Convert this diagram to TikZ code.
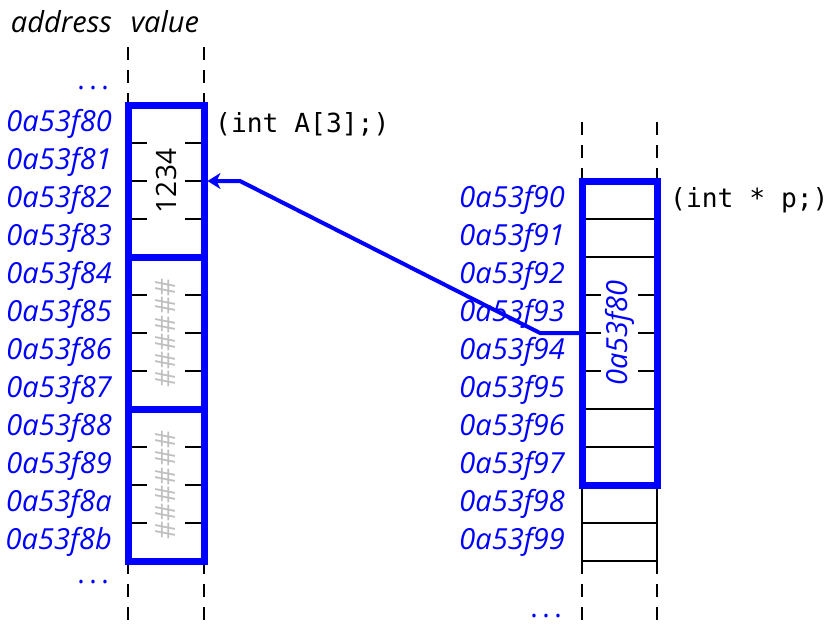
\documentclass[tikz,border=0pt]{standalone}
\usepackage{fontspec}
\setmainfont{Open Sans}
\setmonofont{DejaVu Sans Mono}
\usetikzlibrary{arrows.meta, positioning}

\newcommand{\memfont}{\fontsize{28}{32}\selectfont}
\newcommand{\addrfont}{\fontsize{29}{33}\selectfont\itshape}
\newcommand{\declfont}{\ttfamily\fontsize{26.3}{30}\selectfont}

\tikzset{
    cell/.style={minimum width=76pt, minimum height=38pt, inner sep=0pt, outer sep=0pt},
    addr/.style={font=\addrfont, text=blue, inner sep=0pt},
    head/.style={font=\addrfont, inner sep=0pt},
    dots/.style={font=\memfont, text=blue, inner sep=0pt},
    decl/.style={font=\declfont, inner sep=0pt},
    column/.style={line width=1.5pt, dash pattern=on 13pt off 10pt},
    rowline/.style={line width=1.5pt},
    block/.style={draw=blue, line width=7pt},
    ptr/.style={draw=blue, line width=4pt, -{Stealth[length=13pt, width=16pt, inset=4pt]}},
}

\begin{document}
\begin{tikzpicture}[x=1pt, y=-1pt]
    \useasboundingbox (0,0) rectangle (826,624);

    % memory cells
    \foreach \i/\a in {0/80,1/81,2/82,3/83,4/84,5/85,6/86,7/87,8/88,9/89,10/8a,11/8b} {
        \node[cell] (L\i) at (166, 124+38*\i) {};
        \node[addr, left=16pt of L\i] (aL\i) {0a53f\a};
    }
    \foreach \i/\a in {0/90,1/91,2/92,3/93,4/94,5/95,6/96,7/97,8/98,9/99} {
        \node[cell, minimum width=75pt] (R\i) at (619.5, 200+38*\i) {};
        \node[addr, left=17pt of R\i] (aR\i) {0a53f\a};
    }

    % headings and ellipses
    \node[head, anchor=east] (haddr) at (112,22) {address};
    \node[head] (hval) at (165,22) {value};
    \node[dots, anchor=east] (dtop) at (109,88) {.\kern4.5pt.\kern4.5pt.};
    \node[dots, anchor=east] (dbot) at (109,582) {.\kern4.5pt.\kern4.5pt.};
    \node[dots, anchor=east] (dright) at (562,616) {.\kern4.5pt.\kern4.5pt.};

    % columns
    \draw[column] ([yshift=58pt]L0.north west) -- (L0.north west);
    \draw[column] ([yshift=58pt]L0.north east) -- (L0.north east);
    \draw[column] (L11.south west) -- ([yshift=-63pt]L11.south west);
    \draw[column] (L11.south east) -- ([yshift=-63pt]L11.south east);
    \draw[column] ([yshift=59pt]R0.north west) -- (R0.north west);
    \draw[column] ([yshift=59pt]R0.north east) -- (R0.north east);
    \draw[column] (R9.south west) -- ([yshift=-63pt]R9.south west);
    \draw[column] (R9.south east) -- ([yshift=-63pt]R9.south east);
    \draw[rowline] (L0.north west) -- (L11.south west) (L0.north east) -- (L11.south east);
    \draw[rowline] (R0.north west) -- (R9.south west) (R0.north east) -- (R9.south east);

    % row boundaries: full lines and ticks
    \foreach \i in {0,1,5,6,7,8,9}
        \draw[rowline] (R\i.south west) -- (R\i.south east);
    \foreach \i in {2,3,4}
        \draw[rowline] (R\i.south west) -- ++(19,0) (R\i.south east) -- ++(-19,0);
    \foreach \i in {0,1,2,4,5,6,8,9,10}
        \draw[rowline] (L\i.south west) -- ++(19,0) (L\i.south east) -- ++(-19,0);

    % values
    \node[font=\memfont, rotate=90] (v0) at (L1.south) {1234};
    \node[font=\memfont, text=black!25, rotate=90] (v1) at (L5.south) {\#\#\#\#\#\#};
    \node[font=\memfont, text=black!25, rotate=90] (v2) at (L9.south) {\#\#\#\#\#\#};
    \node[font=\addrfont, text=blue, rotate=90] (vp) at (R3.south) {0a53f80};

    % variables
    \draw[block] (L0.north west) rectangle (L3.south east);
    \draw[block] (L4.north west) rectangle (L7.south east);
    \draw[block] (L8.north west) rectangle (L11.south east);
    \draw[block] (R0.north west) rectangle (R7.south east);
    \node[decl, anchor=west, right=11pt of L0] (declA) {(int A[3];)};
    \node[decl, anchor=west, right=13pt of R0] (declp) {(int * p;)};

    % pointer
    \draw[ptr, shorten >=3.5pt] (R3.south west) -- ([xshift=-42pt]R3.south west)
        -- ([xshift=36pt]L1.south east) -- (L1.south east);
\end{tikzpicture}
\end{document}
